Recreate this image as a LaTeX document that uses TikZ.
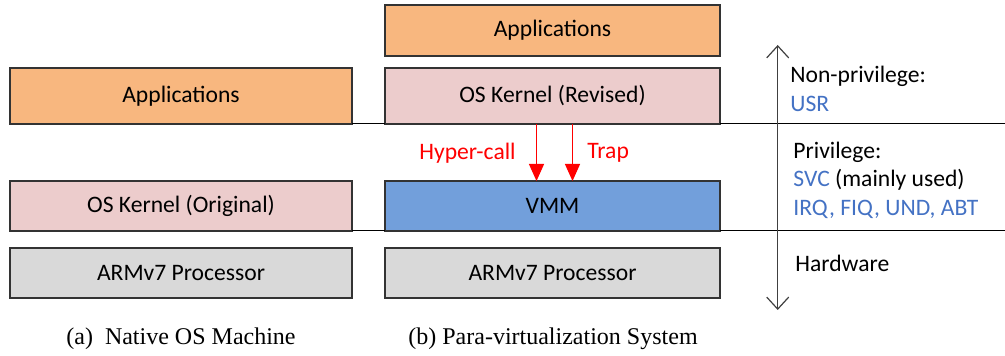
\documentclass[tikz,border=0pt]{standalone}
\usepackage{fontspec}
\setmainfont{Liberation Serif}
\newfontfamily\boxfont{Carlito}
\usetikzlibrary{arrows.meta, positioning}
\definecolor{appsorange}{RGB}{248, 183, 127}
\definecolor{kernelpink}{RGB}{236, 204, 204}
\definecolor{vmmblue}{RGB}{114, 159, 219}
\definecolor{cpugray}{RGB}{217, 217, 217}
\definecolor{modeblue}{RGB}{68, 114, 196}
\tikzset{
    layer/.style={rectangle, draw=black!80, line width=0.8pt, inner sep=0pt, outer sep=0pt, minimum height=25pt, font=\boxfont\fontsize{11.8}{14}\selectfont},
    leftlayer/.style={layer, minimum width=171pt},
    midlayer/.style={layer, minimum width=167.5pt},
    level/.style={draw, black, line width=0.5pt},
    modetext/.style={anchor=base west, inner sep=0pt, font=\boxfont\fontsize{11.8}{14}\selectfont},
    calllabel/.style={inner sep=0pt, text=red, font=\boxfont\fontsize{11.8}{14}\selectfont},
    callarrow/.style={draw=red, line width=0.6pt, -{Triangle[length=8.5pt, width=7.5pt]}},
    caption/.style={anchor=base, inner sep=0pt, font=\fontsize{12}{14}\selectfont}
}
\begin{document}
\begin{tikzpicture}[x=0.5pt, y=-0.5pt]
    \useasboundingbox (0,0) rectangle (1005,356);
    \coordinate (edge) at (1005,0);

    % (a) native machine
    \node[leftlayer, anchor=north west, minimum height=28pt, fill=appsorange] (appsA) at (10,68) {Applications};
    \node[leftlayer, anchor=north west, fill=kernelpink] (kernelA) at (10,181) {OS Kernel (Original)};
    \node[leftlayer, fill=cpugray, below=8.5pt of kernelA] (cpuA) {ARMv7 Processor};

    % (b) para-virtualization
    \node[midlayer, anchor=north west, minimum height=25.5pt, fill=appsorange] (appsB) at (385,5) {Applications};
    \node[midlayer, minimum height=28pt, fill=kernelpink, below=6pt of appsB] (kernelB) {OS Kernel (Revised)};
    \node[midlayer, fill=vmmblue, below=28.5pt of kernelB] (vmmB) {VMM};
    \node[midlayer, fill=cpugray, below=8.5pt of vmmB] (cpuB) {ARMv7 Processor};

    % privilege levels
    \draw[level] (appsA.south east) -- (kernelB.south west);
    \draw[level] (kernelB.south east) -- (kernelB.south east -| edge);
    \draw[level] (kernelA.south east) -- (vmmB.south west);
    \draw[level] (vmmB.south east) -- (vmmB.south east -| edge);

    \coordinate (top) at (777.7,45);
    \coordinate (bot) at (777.7,310);
    \draw[black!75, line width=0.6pt, {Straight Barb[length=6pt, width=11pt]}-{Straight Barb[length=6pt, width=11pt]}] (top) -- (bot);

    \node[modetext] (nonpriv) at (790,83) {Non-privilege:};
    \node[modetext, text=modeblue] (usr) at (790,112) {USR};
    \node[modetext] (priv) at (793,159) {Privilege:};
    \node[modetext] (svc) at (793,187) {\textcolor{modeblue}{SVC} (mainly used)};
    \node[modetext, text=modeblue] (irq) at (793,216) {IRQ, FIQ, UND, ABT};
    \node[modetext] (hw) at (795,272) {Hardware};

    % calls into the VMM
    \draw[callarrow] ([xshift=-8pt]kernelB.south) -- ([xshift=-8pt]vmmB.north);
    \draw[callarrow] ([xshift=10pt]kernelB.south) -- ([xshift=10pt]vmmB.north);
    \node[calllabel, anchor=east] (hyper) at (516,153) {Hyper-call};
    \node[calllabel, anchor=west] (trap) at (587,153) {Trap};

    % captions
    \node[caption] (capA) at (181,345) {(a)\ \ Native OS Machine};
    \node[caption] (capB) at (553,345) {(b) Para-virtualization System};
\end{tikzpicture}
\end{document}
